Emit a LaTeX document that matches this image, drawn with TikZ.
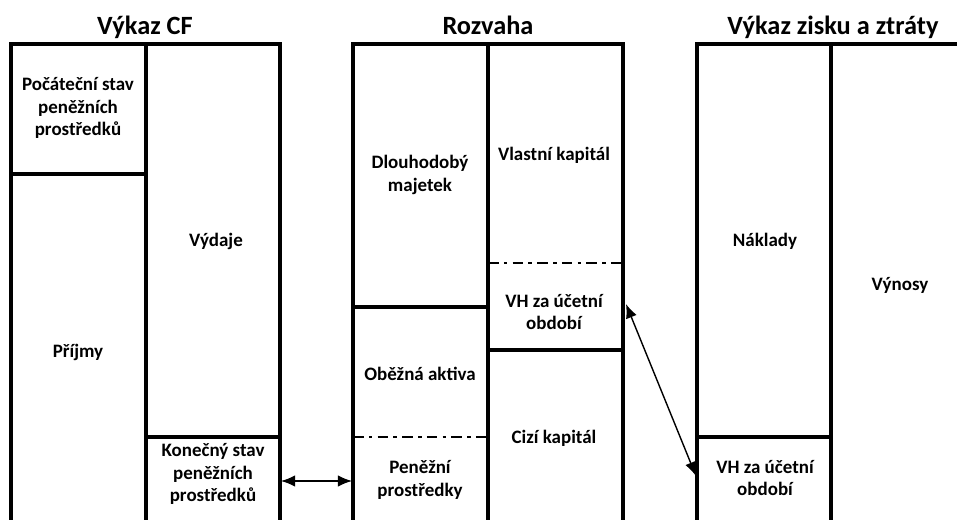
\documentclass[tikz,border=0pt]{standalone}
\usepackage{fontspec}
\setmainfont{Carlito}
\usetikzlibrary{arrows.meta}
\tikzset{frame/.style = {line width=1.9pt, line cap=rect},
         split/.style = {line width=1.6pt, dash pattern=on 6pt off 3pt on 2pt off 3pt},
         item/.style = {font=\bfseries\fontsize{10.8}{12.6}\selectfont, align=center},
         head/.style = {font=\bfseries\fontsize{15}{17}\selectfont, anchor=base},
         link/.style = {{Latex[length=8pt,width=6.5pt]}-{Latex[length=8pt,width=6.5pt]}, line width=0.8pt}}

\begin{document}
\begin{tikzpicture}[x=0.02cm, y=-0.02cm]
    \useasboundingbox (0,0) rectangle (957,520);

    % titles
    \node [head] (cfhead) at (145, 35) {Výkaz CF};
    \node [head] (bshead) at (488, 35) {Rozvaha};
    \node [head] (plhead) at (833, 35) {Výkaz zisku a ztráty};

    % Vykaz CF
    \draw [frame] (11, 520) -- (11, 44) -- (280, 44) -- (280, 520);
    \draw [frame] (146, 44) -- (146, 520);
    \draw [frame] (11, 174) -- (146, 174);
    \draw [frame] (146, 437) -- (280, 437);

    % Rozvaha
    \draw [frame] (353, 520) -- (353, 44) -- (623, 44) -- (623, 520);
    \draw [frame] (488, 44) -- (488, 520);
    \draw [frame] (353, 307) -- (488, 307);
    \draw [split] (353, 437) -- (488, 437);
    \draw [split] (488, 263) -- (623, 263);
    \draw [frame] (488, 350) -- (623, 350);

    % Vykaz zisku a ztraty
    \draw [frame] (697, 520) -- (697, 44) -- (957, 44);
    \draw [frame] (831, 44) -- (831, 520);
    \draw [frame] (697, 437) -- (831, 437);

    \node [item] (cfstart) at (78, 108) {Počáteční stav\\peněžních\\prostředků};
    \node [item] (cfin) at (78, 352) {Příjmy};
    \node [item] (cfout) at (216, 241) {Výdaje};
    \node [item] (cfend) at (213, 474) {Konečný stav\\peněžních\\prostředků};

    \node [item] (bsfix) at (420, 175) {Dlouhodobý\\majetek};
    \node [item] (bscur) at (420, 374) {Oběžná aktiva};
    \node [item] (bscash) at (420, 480) {Peněžní\\prostředky};
    \node [item] (bsown) at (554, 155) {Vlastní kapitál};
    \node [item] (bsvh) at (554, 312) {VH za účetní\\období};
    \node [item] (bsdebt) at (554, 438) {Cizí kapitál};

    \node [item] (plcost) at (765, 241) {Náklady};
    \node [item] (plvh) at (765, 478) {VH za účetní\\období};
    \node [item] (plrev) at (900, 285) {Výnosy};

    % vazby
    \coordinate (cfedge) at (281, 481);
    \coordinate (bsedge) at (352, 481);
    \coordinate (vhtop) at (626, 304);
    \coordinate (vhbot) at (696, 476);
    \draw [link] (cfedge) -- (bsedge);
    \draw [link] (vhtop) -- (vhbot);
\end{tikzpicture}
\end{document}
